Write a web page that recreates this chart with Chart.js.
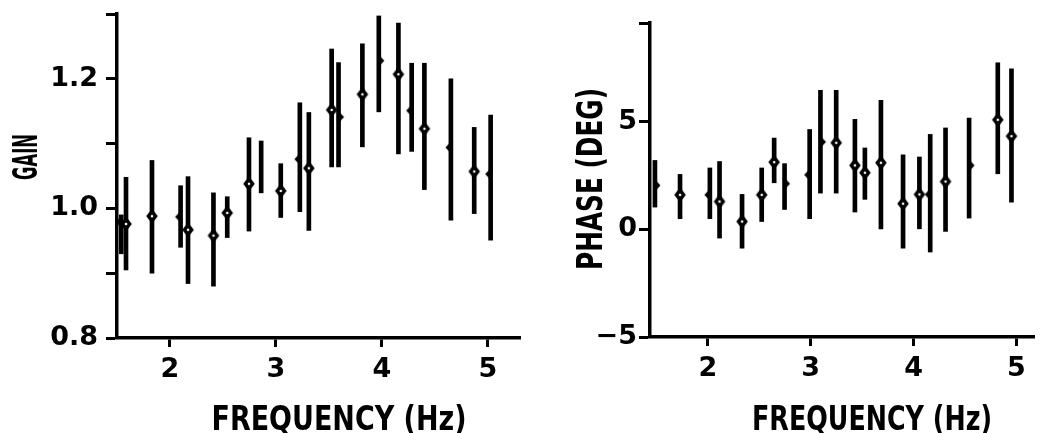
<!DOCTYPE html>
<html>
<head>
<meta charset="utf-8">
<script src="https://cdn.jsdelivr.net/npm/chart.js@4/dist/chart.umd.min.js"></script>
<style>
  html, body { margin: 0; padding: 0; background: #fff; }
  #wrap { position: relative; width: 1042px; height: 433px; overflow: hidden; }
  #gain { position: absolute; left: 0; top: 0; }
  #phase { position: absolute; left: 540px; top: 0; }
</style>
</head>
<body>
<div id="wrap">
  <canvas id="gain" width="540" height="433"></canvas>
  <canvas id="phase" width="502" height="433"></canvas>
</div>
<script>
// gain panel
let gainFreq = [1.54, 1.585, 1.83, 2.10, 2.17, 2.41, 2.54, 2.745, 2.86, 3.045, 3.225, 3.31, 3.525, 3.59, 3.815, 3.97, 4.155, 4.28, 4.40, 4.65, 4.87, 5.025];
let gainMean = [0.979, 0.976, 0.988, 0.987, 0.967, 0.958, 0.993, 1.038, 1.064, 1.027, 1.076, 1.062, 1.152, 1.141, 1.176, 1.228, 1.207, 1.151, 1.123, 1.094, 1.057, 1.053];
let gainLow = [0.93, 0.905, 0.90, 0.94, 0.884, 0.88, 0.955, 0.965, 1.024, 0.986, 0.995, 0.966, 1.064, 1.064, 1.095, 1.149, 1.084, 1.088, 1.029, 0.982, 0.992, 0.951];
let gainHigh = [0.99, 1.048, 1.074, 1.035, 1.049, 1.024, 1.018, 1.109, 1.104, 1.069, 1.163, 1.148, 1.246, 1.225, 1.254, 1.297, 1.286, 1.224, 1.224, 1.2, 1.125, 1.144];
let gainMarks = ['left', 'full', 'full', 'left', 'full', 'full', 'full', 'full', 'none', 'full', 'left', 'full', 'full', 'right', 'full', 'right', 'full', 'left', 'full', 'left', 'full', 'left'];
let gainTicks = [0.8, 0.9, 1.0, 1.1, 1.2, 1.3];
let gainTickLabels = ['0.8', '', '1.0', '', '1.2', ''];

// phase panel
let phaseFreq = [1.486, 1.73, 2.02, 2.114, 2.333, 2.524, 2.645, 2.746, 2.99, 3.095, 3.248, 3.43, 3.527, 3.683, 3.898, 4.057, 4.162, 4.311, 4.54, 4.819, 4.952];
let phaseMean = [2.05, 1.61, 1.61, 1.30, 0.37, 1.61, 3.13, 2.13, 2.54, 4.07, 4.03, 2.98, 2.64, 3.10, 1.20, 1.63, 1.63, 2.23, 2.98, 5.10, 4.34];
let phaseLow = [1.04, 0.50, 0.50, -0.40, -0.87, 0.37, 2.17, 0.93, 0.50, 1.69, 1.69, 0.81, 1.40, 0.03, -0.87, 0.03, -1.05, -0.09, 0.53, 2.59, 1.27];
let phaseHigh = [3.21, 2.56, 2.86, 3.16, 1.63, 2.86, 4.25, 3.06, 4.65, 6.47, 6.47, 5.12, 3.79, 6.00, 3.47, 3.37, 4.42, 4.72, 5.18, 7.75, 7.47];
let phaseMarks = ['right', 'full', 'left', 'full', 'full', 'full', 'full', 'right', 'left', 'right', 'full', 'full', 'full', 'full', 'full', 'full', 'left', 'full', 'right', 'full', 'full'];
let phaseTicks = [-5, 0, 5, 9.6];
let phaseTickLabels = ['\u22125', '0', '5', ''];

let freqTicks = [2, 3, 4, 5];
let freqTickLabels = ['2', '3', '4', '5'];

let xTitle = 'FREQUENCY (Hz)';
let gainTitle = 'GAIN';
let phaseTitle = 'PHASE (DEG)';

let tickFont = { family: '"DejaVu Sans", sans-serif', size: 27, weight: 'bold' };

function marker(kind) {
    let c = document.createElement('canvas');
    c.width = 14;
    c.height = 16;
    let g = c.getContext('2d');
    if (kind == 'none') return c;
    g.fillStyle = '#000';
    g.beginPath();
    if (kind == 'full') { g.moveTo(7, 0.5); g.lineTo(12.8, 8); g.lineTo(7, 15.5); g.lineTo(1.2, 8); }
    if (kind == 'left') { g.moveTo(8, 1); g.lineTo(8, 15); g.lineTo(1.5, 8); }
    if (kind == 'right') { g.moveTo(6, 1); g.lineTo(12.5, 8); g.lineTo(6, 15); }
    g.closePath();
    g.fill();
    if (kind == 'full') {
        g.fillStyle = '#fff';
        g.beginPath();
        g.arc(7, 8, 1.3, 0, Math.PI * 2);
        g.fill();
    }
    return c;
}

// write text squeezed to a given length, baseline at (x, y)
function squeezed(ctx, text, x, y, len, size, rot) {
    ctx.save();
    ctx.font = 'bold ' + size + 'px "DejaVu Sans", sans-serif';
    ctx.fillStyle = '#000';
    ctx.textAlign = 'center';
    ctx.textBaseline = 'alphabetic';
    let w = ctx.measureText(text).width;
    ctx.translate(x, y);
    if (rot) ctx.rotate(-Math.PI / 2);
    ctx.scale(len / w, 1);
    ctx.fillText(text, 0, 0);
    ctx.restore();
}

// axis titles, placed where the paper has them
function titles(t) {
    return {
        id: 'titles',
        afterDraw(chart) {
            let ctx = chart.ctx;
            squeezed(ctx, xTitle, t.x[0], t.x[1], t.x[2], 34, false);
            squeezed(ctx, t.yText, t.y[0], t.y[1], t.y[2], t.y[3], true);
        }
    };
}

function makeChart(id, o) {
    let bars = o.freq.map((f, i) => ({ x: f, y: [o.low[i], o.high[i]] }));
    let pts = o.freq.map((f, i) => ({ x: f, y: o.mean[i] }));
    return new Chart(document.getElementById(id), {
        type: 'bar',
        data: {
            datasets: [{
                data: bars,
                backgroundColor: '#000',
                borderWidth: 0,
                barThickness: 4,
                grouped: false,
                order: 2
            }, {
                type: 'scatter',
                data: pts,
                pointStyle: o.marks.map(marker),
                pointRadius: 7,
                order: 1
            }]
        },
        options: {
            responsive: false,
            animation: false,
            devicePixelRatio: 1,
            layout: { padding: o.padding },
            plugins: { legend: { display: false }, tooltip: { enabled: false } },
            scales: {
                x: {
                    type: 'linear', min: o.xmin, max: o.xmax, offset: false,
                    afterBuildTicks: s => { s.ticks = freqTicks.map(v => ({ value: v })); },
                    afterFit: s => { s.height = o.xHeight; s.paddingLeft = 0; s.paddingRight = 0; },
                    grid: { offset: false, drawOnChartArea: false, drawTicks: true, tickLength: 9, tickWidth: 3, tickColor: '#000' },
                    border: { display: true, width: 3.5, color: '#000' },
                    ticks: { color: '#000', font: tickFont, padding: 7, maxRotation: 0, autoSkip: false,
                             callback: (v, i) => freqTickLabels[i] }
                },
                y: {
                    type: 'linear', min: o.ymin, max: o.ymax,
                    afterBuildTicks: s => { s.ticks = o.yTicks.map(v => ({ value: v })); },
                    afterFit: s => { s.width = o.yWidth; s.paddingTop = 0; s.paddingBottom = 0; },
                    grid: { offset: false, drawOnChartArea: false, drawTicks: true, tickLength: 11, tickWidth: 3, tickColor: '#000' },
                    border: { display: true, width: 3.5, color: '#000' },
                    ticks: { color: '#000', font: tickFont, padding: o.yPad, autoSkip: false,
                             callback: (v, i) => o.yLabels[i] }
                }
            }
        },
        plugins: [titles(o.titles)]
    });
}

makeChart('gain', {
    freq: gainFreq, mean: gainMean, low: gainLow, high: gainHigh, marks: gainMarks,
    xmin: 1.5, xmax: 5.302, ymin: 0.8, ymax: 1.3,
    yTicks: gainTicks, yLabels: gainTickLabels,
    padding: { top: 14, right: 20, left: 0, bottom: 0 },
    xHeight: 95, yWidth: 117, yPad: 8,
    titles: { x: [339, 430, 255], yText: gainTitle, y: [37, 157, 46, 33] }
});

makeChart('phase', {
    freq: phaseFreq, mean: phaseMean, low: phaseLow, high: phaseHigh, marks: phaseMarks,
    xmin: 1.438, xmax: 5.171, ymin: -5, ymax: 9.6,
    yTicks: phaseTicks, yLabels: phaseTickLabels,
    padding: { top: 23, right: 0, left: 0, bottom: 0 },
    xHeight: 96, yWidth: 110, yPad: 2,
    titles: { x: [332, 430, 240], yText: phaseTitle, y: [62, 179, 182, 36] }
});
</script>
</body>
</html>
